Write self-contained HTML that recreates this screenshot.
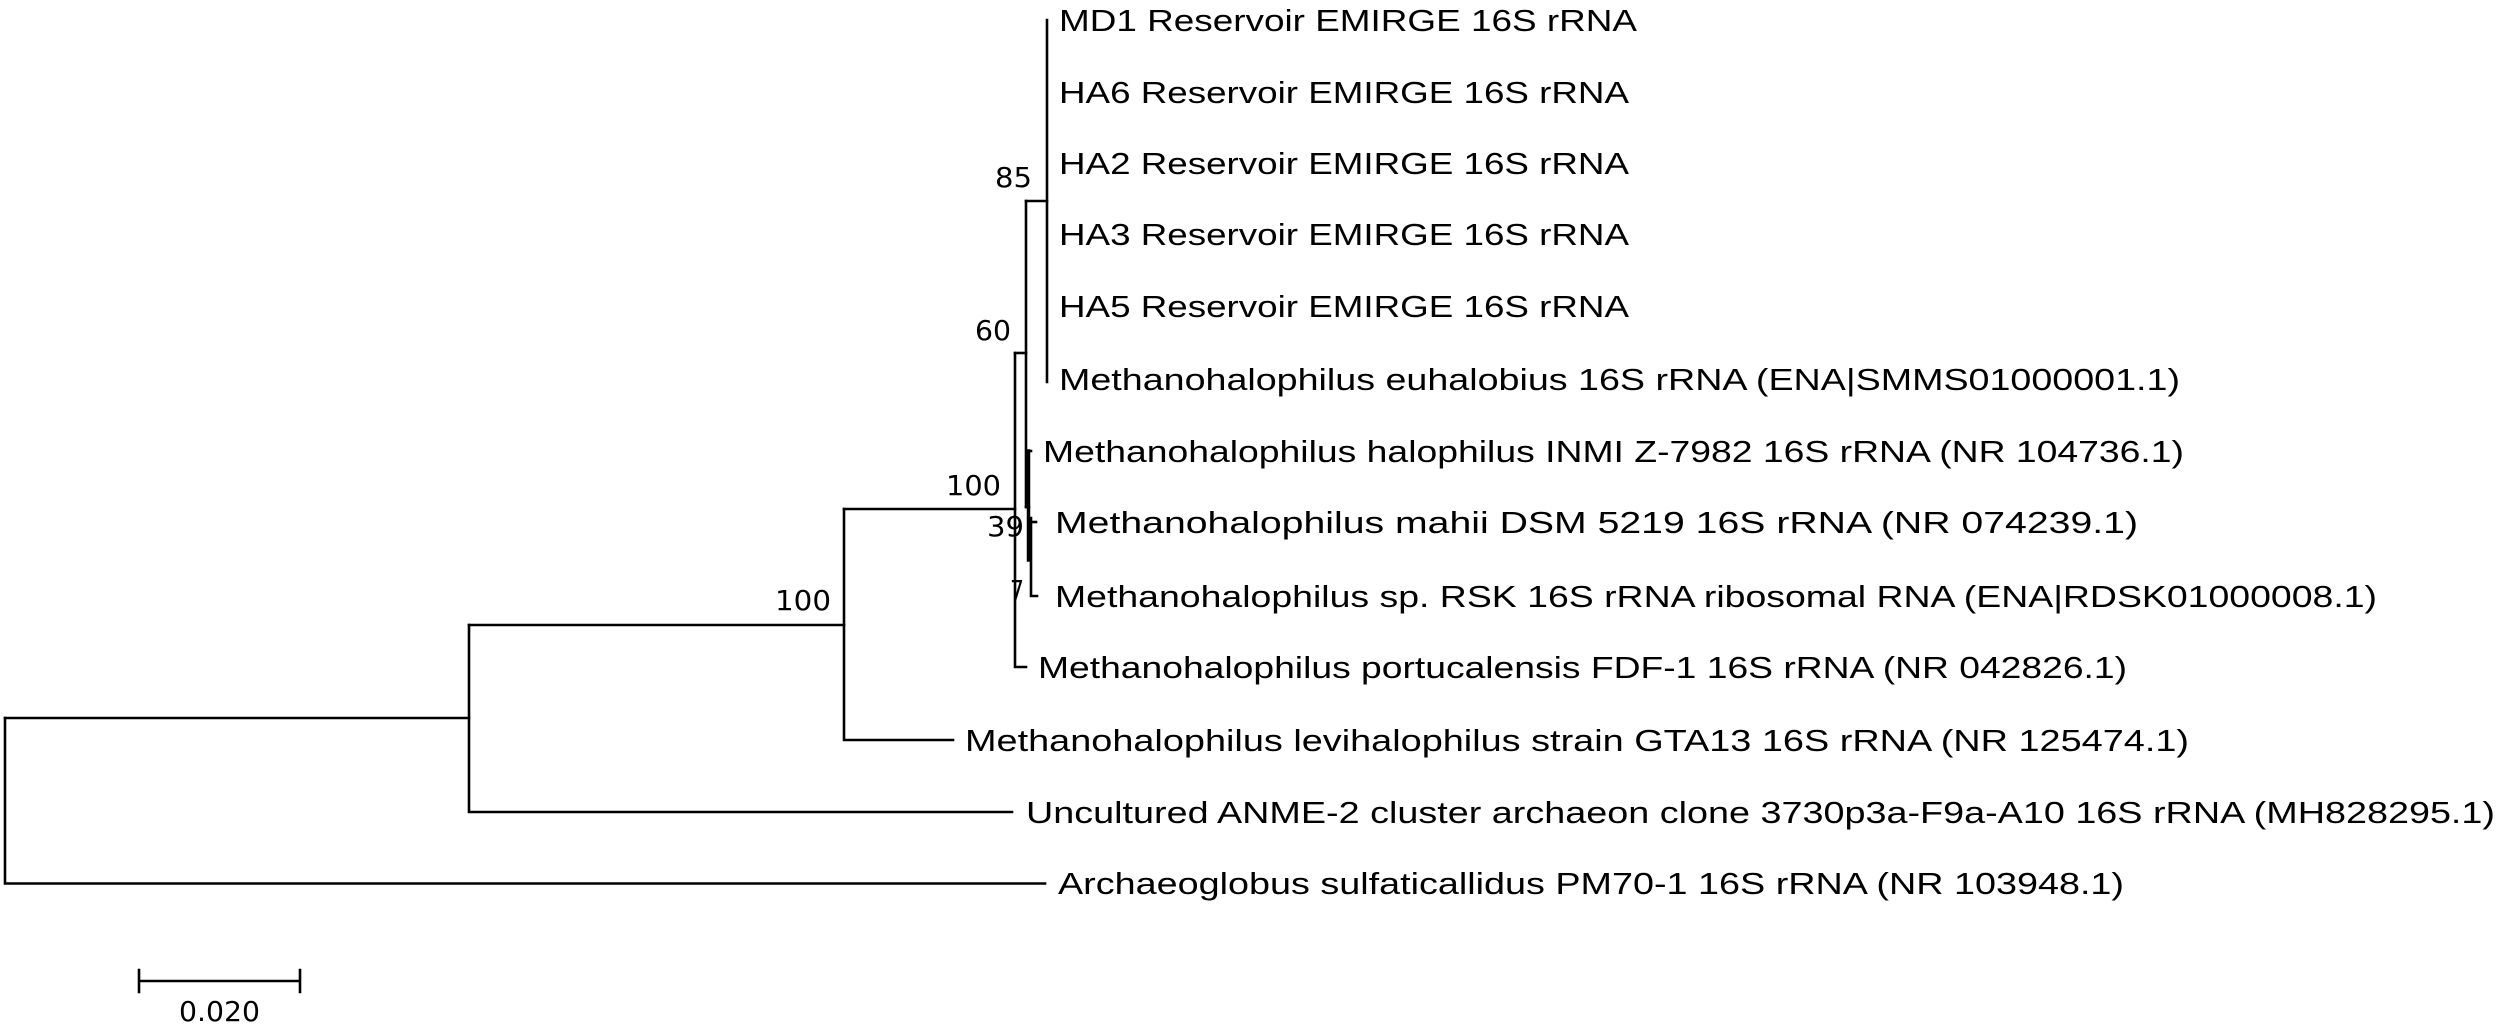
<!DOCTYPE html>
<html><head><meta charset="utf-8"><style>html,body{margin:0;padding:0;background:#fff;}svg{display:block}</style></head>
<body>
<svg width="2500" height="1026" viewBox="0 0 2500 1026" xmlns="http://www.w3.org/2000/svg">
<g stroke="#000" stroke-width="2.6" fill="none" stroke-linecap="square">
<!-- root -->
<path d="M5,718 V883.5 H1045"/>
<path d="M5,718 H469"/>
<path d="M469,625 V812 H1012"/>
<path d="M469,625 H844"/>
<path d="M844,509 V740 H953"/>
<path d="M844,509 H1015"/>
<path d="M1015,353 V667 H1026"/>
<path d="M1015,353 H1026"/>
<path d="M1026,201 V507"/>
<path d="M1026,201 H1047"/>
<path d="M1047,20 V382"/>
<path d="M1028.5,451 V560" stroke-width="3.5"/>
<path d="M1026,507 H1029"/>
<path d="M1031,518 V596 H1037"/>
<path d="M1031,522 H1036"/>
<path d="M1028.5,451 H1031"/>
<!-- scale bar -->
<path d="M139,981 H300 M139,970 V992 M300,970 V992"/>
</g>
<g font-family="Liberation Sans, Arial, sans-serif" font-size="31" fill="#000" lengthAdjust="spacingAndGlyphs">
<text x="1059" y="31" textLength="578" lengthAdjust="spacingAndGlyphs">MD1 Reservoir EMIRGE 16S rRNA</text>
<text x="1059" y="103" textLength="570" lengthAdjust="spacingAndGlyphs">HA6 Reservoir EMIRGE 16S rRNA</text>
<text x="1059" y="174" textLength="570" lengthAdjust="spacingAndGlyphs">HA2 Reservoir EMIRGE 16S rRNA</text>
<text x="1059" y="245" textLength="570" lengthAdjust="spacingAndGlyphs">HA3 Reservoir EMIRGE 16S rRNA</text>
<text x="1059" y="317" textLength="570" lengthAdjust="spacingAndGlyphs">HA5 Reservoir EMIRGE 16S rRNA</text>
<text x="1059" y="390" textLength="1121" lengthAdjust="spacingAndGlyphs">Methanohalophilus euhalobius 16S rRNA (ENA|SMMS01000001.1)</text>
<text x="1043" y="462" textLength="1141" lengthAdjust="spacingAndGlyphs">Methanohalophilus halophilus INMI Z-7982 16S rRNA (NR 104736.1)</text>
<text x="1055" y="533" textLength="1083" lengthAdjust="spacingAndGlyphs">Methanohalophilus mahii DSM 5219 16S rRNA (NR 074239.1)</text>
<text x="1055" y="607" textLength="1322" lengthAdjust="spacingAndGlyphs">Methanohalophilus sp. RSK 16S rRNA ribosomal RNA (ENA|RDSK01000008.1)</text>
<text x="1038" y="678" textLength="1089" lengthAdjust="spacingAndGlyphs">Methanohalophilus portucalensis FDF-1 16S rRNA (NR 042826.1)</text>
<text x="965" y="751" textLength="1224" lengthAdjust="spacingAndGlyphs">Methanohalophilus levihalophilus strain GTA13 16S rRNA (NR 125474.1)</text>
<text x="1026" y="823" textLength="1469" lengthAdjust="spacingAndGlyphs">Uncultured ANME-2 cluster archaeon clone 3730p3a-F9a-A10 16S rRNA (MH828295.1)</text>
<text x="1058" y="894" textLength="1066" lengthAdjust="spacingAndGlyphs">Archaeoglobus sulfaticallidus PM70-1 16S rRNA (NR 103948.1)</text>
</g>
<g font-family="DejaVu Sans, Liberation Sans, sans-serif" font-size="28" fill="#000">
<text x="995" y="187" textLength="37" lengthAdjust="spacingAndGlyphs">85</text>
<text x="975" y="340" textLength="36" lengthAdjust="spacingAndGlyphs">60</text>
<text x="946" y="495" textLength="55" lengthAdjust="spacingAndGlyphs">100</text>
<text x="987" y="536" textLength="37" lengthAdjust="spacingAndGlyphs">39</text>
<text x="1010" y="600" textLength="14" lengthAdjust="spacingAndGlyphs">7</text>
<text x="775" y="610" textLength="56" lengthAdjust="spacingAndGlyphs">100</text>
<text x="179" y="1021" textLength="81" lengthAdjust="spacingAndGlyphs">0.020</text>
</g>
</svg>
</body></html>
